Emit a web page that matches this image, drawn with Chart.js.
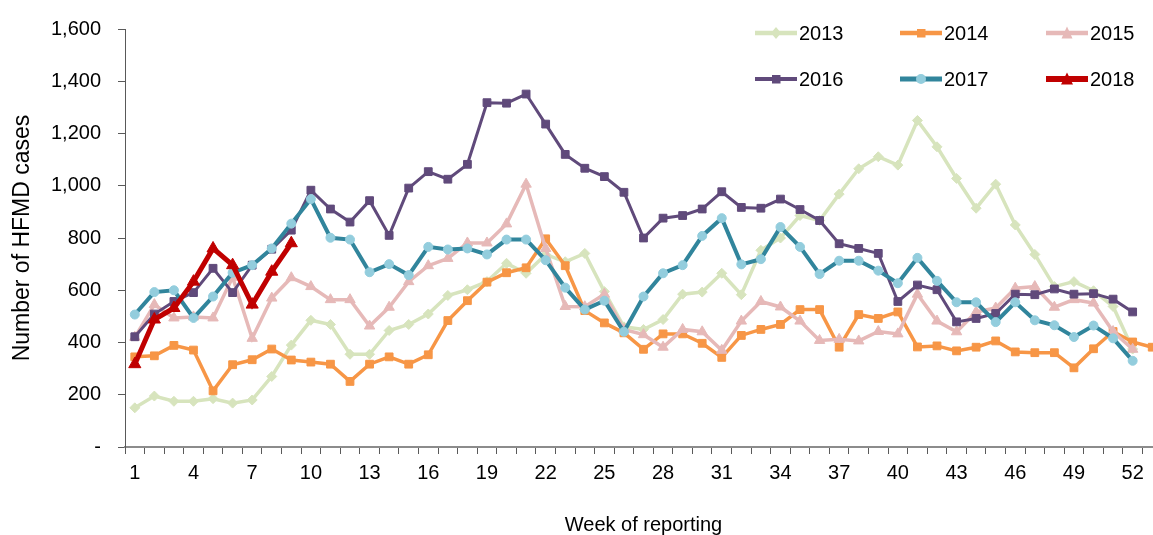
<!DOCTYPE html>
<html>
<head>
<meta charset="utf-8">
<script src="https://cdn.jsdelivr.net/npm/chart.js"></script>
<style>
  html, body { margin: 0; padding: 0; background: #fff; overflow: hidden; }
  #wrap { position: relative; width: 1170px; height: 535px; }
  #legend { position: absolute; left: 0; top: 0; font: 20px "Liberation Sans", Arial, sans-serif; color: #000; }
  .item { position: absolute; height: 24px; line-height: 24px; white-space: nowrap; }
  .item svg { position: absolute; top: 0; }
</style>
</head>
<body>
<div id="wrap">
  <canvas id="hfmdChart"></canvas>
  <div id="legend"></div>
</div>
<script>
const weeks = ['1','2','3','4','5','6','7','8','9','10','11','12','13','14','15','16','17','18',
  '19','20','21','22','23','24','25','26','27','28','29','30','31','32','33','34','35','36',
  '37','38','39','40','41','42','43','44','45','46','47','48','49','50','51','52','53'];

const cases2013 = [150, 195, 175, 175, 185, 168, 180, 270, 390, 485, 469, 355, 355, 446, 469, 509, 580, 602,
  633, 703, 665, 737, 709, 741, 595, 460, 450, 488, 585, 593, 665, 583, 753, 800, 886, 867,
  968, 1065, 1111, 1079, 1250, 1149, 1028, 914, 1006, 850, 737, 614, 633, 598, 538, 375, null];
const cases2014 = [345, 349, 389, 371, 215, 315, 334, 375, 333, 325, 317, 251, 317, 345, 317, 353, 484, 560,
  631, 667, 686, 797, 694, 522, 475, 437, 374, 433, 433, 397, 343, 427, 450, 469, 526, 526,
  382, 507, 492, 517, 383, 387, 368, 382, 406, 364, 361, 361, 303, 376, 442, 402, 382];
const cases2015 = [420, 545, 494, 498, 494, 650, 416, 570, 648, 614, 564, 564, 463, 535, 633, 694, 722, 781,
  781, 854, 1006, 760, 538, 537, 585, 450, 430, 382, 450, 441, 370, 482, 557, 536, 482, 408,
  412, 406, 442, 433, 585, 482, 441, 517, 532, 608, 614, 535, 564, 551, 442, 374, null];
const cases2016 = [422, 509, 557, 591, 684, 591, 696, 757, 830, 983, 911, 861, 943, 810, 991, 1054, 1025, 1082,
  1318, 1316, 1351, 1236, 1120, 1067, 1035, 975, 800, 876, 886, 911, 977, 917, 914, 949, 909, 867,
  778, 760, 741, 557, 620, 602, 479, 492, 511, 585, 583, 605, 585, 587, 566, 517, null];
const cases2017 = [507, 593, 600, 494, 576, 667, 696, 760, 855, 949, 801, 794, 669, 700, 658, 766, 756, 760,
  737, 794, 794, 715, 610, 526, 560, 441, 576, 665, 696, 808, 876, 699, 719, 842, 766, 662,
  713, 713, 675, 627, 724, 636, 554, 554, 478, 554, 485, 466, 421, 465, 416, 330, null];
const cases2018 = [317, 488, 532, 633, 760, 696, 545, 671, 780];

const yTicks = [0, 200, 400, 600, 800, 1000, 1200, 1400, 1600];

const series = [
  { label: '2013', data: cases2013, line: '#d7e4bd', fill: '#d7e4bd', style: 'rectRot', radius: 5, width: 3.5 },
  { label: '2014', data: cases2014, line: '#f79646', fill: '#f79646', style: 'rect', radius: 5.5, width: 3.5 },
  { label: '2015', data: cases2015, line: '#e6b9b8', fill: '#e6b9b8', style: 'triangle', radius: 6, width: 3.5 },
  { label: '2016', data: cases2016, line: '#604a7b', fill: '#604a7b', style: 'rect', radius: 5.5, width: 3 },
  { label: '2017', data: cases2017, line: '#31859c', fill: '#93cddd', style: 'circle', radius: 4.5, width: 4 },
  { label: '2018', data: cases2018, line: '#c00000', fill: '#c00000', style: 'triangle', radius: 7, width: 5 }
];

const font = { family: '"Liberation Sans", Arial, sans-serif', size: 20 };

const ctx = document.getElementById('hfmdChart');

new Chart(ctx, {
  type: 'line',
  data: {
    labels: weeks,
    datasets: series.map((s, i) => ({
      label: s.label,
      data: s.data,
      borderColor: s.line,
      backgroundColor: s.fill,
      pointBackgroundColor: s.fill,
      pointBorderColor: s.fill,
      pointBorderWidth: 1,
      pointStyle: s.style,
      pointRadius: s.radius,
      borderWidth: s.width,
      tension: 0,
      order: series.length - i
    }))
  },
  options: {
    responsive: true,
    maintainAspectRatio: false,
    animation: false,
    layout: { padding: { top: 25, right: 6, bottom: 0, left: 0 } },
    plugins: {
      legend: { display: false },
      tooltip: { enabled: false }
    },
    scales: {
      x: {
        offset: true,
        grid: { offset: true, drawOnChartArea: false, tickLength: 7, tickColor: '#595959', tickWidth: 1 },
        border: { color: '#8c8c8c', width: 2 },
        ticks: {
          autoSkip: false,
          maxRotation: 0,
          padding: 7,
          color: '#000',
          font: font,
          callback: function (val, idx) {
            return (idx % 3 === 0 && idx < 52) ? this.getLabelForValue(val) : '';
          }
        },
        title: { display: true, text: 'Week of reporting', color: '#000', font: font, padding: { top: 0, bottom: -2 } },
        afterFit: (scale) => { scale.height = 88; }
      },
      y: {
        min: yTicks[0],
        max: yTicks[yTicks.length - 1],
        afterBuildTicks: (scale) => { scale.ticks = yTicks.map(v => ({ value: v })); },
        ticks: {
          padding: 17,
          color: '#000',
          font: font,
          callback: (v) => v === 0 ? '-' : v.toLocaleString('en-US')
        },
        grid: { drawOnChartArea: false, tickLength: 7, tickColor: '#595959' },
        border: { color: '#595959', width: 1 },
        title: { display: true, text: 'Number of HFMD cases', color: '#000', font: { family: font.family, size: 23 }, padding: { top: 9, bottom: 0 } },
        afterFit: (scale) => { scale.width = 125; }
      }
    }
  }
});

// legend in the top right, 3 columns x 2 rows
const legendCols = [755, 900, 1046];
const legendRows = [21, 67];

function markerSvg(s) {
  const c = s.fill;
  if (s.style === 'rectRot') return `<polygon points="21,4 26,10 21,16 16,10" fill="${c}"/>`;
  if (s.style === 'rect') return `<rect x="17" y="6" width="8.5" height="8.5" fill="${c}"/>`;
  if (s.style === 'circle') return `<circle cx="21" cy="10" r="5" fill="${c}"/>`;
  const w = s.label === '2018' ? 6 : 5.5;
  return `<polygon points="21,3.5 ${21 + w},15.5 ${21 - w},15.5" fill="${c}"/>`;
}

const legend = document.getElementById('legend');
series.forEach((s, i) => {
  const item = document.createElement('div');
  item.className = 'item';
  item.style.left = legendCols[i % 3] + 'px';
  item.style.top = legendRows[Math.floor(i / 3)] + 'px';
  item.innerHTML =
    `<svg width="42" height="20" style="top:2px"><line x1="0" y1="10" x2="42" y2="10" stroke="${s.line}" stroke-width="${s.width + 1}" stroke-linecap="round"/>${markerSvg(s)}</svg>` +
    `<span style="margin-left:44px">${s.label}</span>`;
  legend.appendChild(item);
});
</script>
</body>
</html>
